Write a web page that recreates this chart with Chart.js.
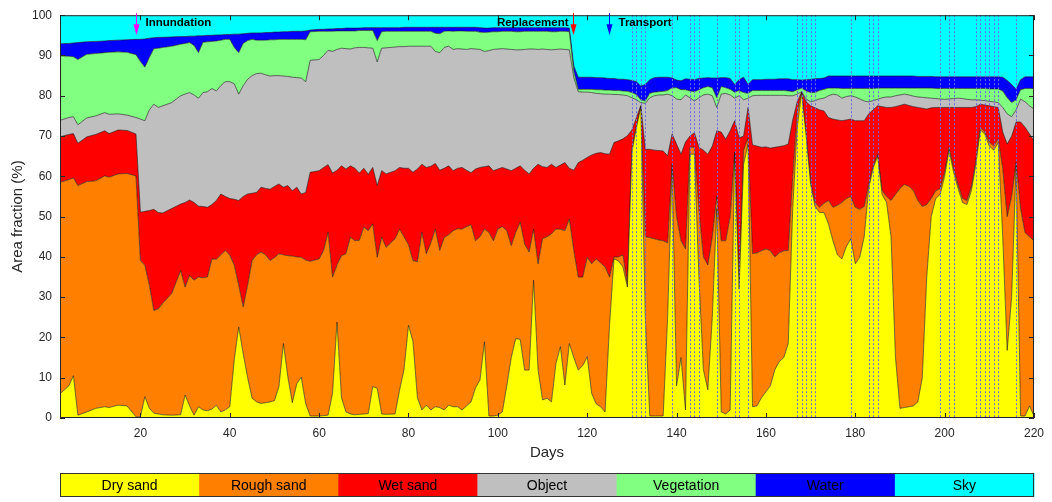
<!DOCTYPE html>
<html>
<head>
<meta charset="utf-8">
<script src="https://cdn.jsdelivr.net/npm/chart.js@4.4.1/dist/chart.umd.min.js"></script>
<style>
  html, body { margin: 0; padding: 0; background: #fff; }
  #wrap { width: 1052px; height: 502px; }
</style>
</head>
<body>
<div id="wrap"><canvas id="areaChart" width="1052" height="502"></canvas></div>
<script>
// sample days (x)
const days = [
  2, 4, 5, 6, 8, 10, 12, 13, 15, 17, 19,
  20, 21, 22, 23, 24, 25, 27, 29, 30, 31, 32, 33, 34, 35, 36, 37, 38, 39, 40,
  41, 42, 43, 44, 45, 46, 47, 48, 49, 50, 51, 52, 53, 54, 55, 56, 57, 58,
  60, 61, 62, 63, 64, 65, 66, 67, 68, 69, 70, 71, 72, 73, 74, 75,
  77, 78, 79, 80, 81, 82, 83, 84, 85, 86, 87, 88, 89,
  90, 91, 92, 93, 94, 95, 96, 97, 98, 99,
  100, 101, 102, 103, 104, 105, 106, 107, 108, 109,
  110, 111, 112, 113, 114, 115, 116, 117, 118, 119,
  120, 121, 122, 123, 124, 125, 126, 127, 128, 129,
  130, 131, 132, 133, 134, 135, 136, 137, 138, 139,
  140, 141, 142, 143, 144, 145, 146, 147, 148, 149,
  150, 151, 152, 153, 154, 155, 156, 157, 158, 159,
  160, 161, 162, 163, 164, 165, 166, 167, 168, 169,
  170, 171, 172, 173, 174, 175, 176, 177, 178, 179,
  180, 181, 182, 183, 184, 185, 186, 187, 188, 189,
  190, 191, 192, 193, 194, 195, 196, 197, 198, 199,
  200, 201, 202, 203, 204, 205, 206, 207, 208, 209,
  210, 211, 212, 213, 214, 215, 216, 217, 218, 219,
  220
];

// upper edge of each class, cumulative area fraction (%)
const dryTop = [
  6, 8, 10.5, 0.7, 1.5, 2.4, 2.8, 2.6, 3.2, 3.0, 0.3,
  0.3, 5.3, 2.4, 1.2, 1.0, 0.8, 0.7, 0.8, 5.7, 3.0, 0.7, 2.8, 2.0, 1.8, 2.2, 3.2, 1.5, 2.0, 2.8,
  14.4, 22.6, 16, 10, 4.9, 4.0, 3.6, 3.8, 4.0, 4.3, 7.8, 18.5, 10.2, 3.8, 8.5, 10.1, 3.5, 0.5,
  0.5, 0.6, 0.7, 6.1, 23.8, 5.0, 1.5, 1.0, 0.8, 0.9, 1.0, 1.1, 7.8, 7.4, 1.0, 0.9,
  1.0, 6.9, 12, 23, 19, 5, 2, 3.2, 2, 2.8, 2.6, 2.0, 3.2,
  2.8, 2.8, 2.0, 3.0, 4.0, 7.5, 9.4, 18.9, 0.5, 0.5,
  0.7, 1.5, 8, 15, 19.7, 19.5, 11.9, 11.9, 34.2, 12,
  4.5, 4.9, 4.0, 13.5, 17.7, 8.2, 18.5, 15, 11.9, 13,
  15.2, 6.1, 3.5, 2.8, 1.5, 23, 39.5, 39, 37.5, 32.5,
  66, 72, 77.1, 25, 0.5, 0.5, 0.5, 0.5, 25, 62,
  8, 15, 2, 65.5, 65.5, 35, 12, 7, 25, 52,
  1.5, 1.0, 2, 65.5, 32, 63, 68, 2.8, 3, 5,
  6.5, 8, 12, 14, 15, 18.5, 52, 72, 80.8, 70,
  58, 52.5, 51, 51, 48.2, 44, 40.5, 39.5, 42.5, 44.5,
  38.3, 39.9, 45, 57, 62, 65, 55.5, 53.5, 45, 15,
  2.4, 2.6, 2.8, 3.0, 4.0, 10, 35, 50, 54.5, 55.5,
  60, 66.5, 61, 57, 53.5, 53, 56.5, 63, 71.5, 70.5,
  67.5, 66.5, 68.4, 45, 16.8, 30, 62.6, 0.5, 0.5, 3,
  0.5
];
const roughTop = [
  58.5, 59.2, 59.6, 57.7, 58.7, 58.9, 60.1, 59.8, 60.6, 60.7, 60.1,
  39.1, 37.9, 33, 26.7, 27.1, 28.5, 30.9, 36.6, 32.5, 35.4, 34.2, 35, 34.8, 35, 39.5, 39.4, 40.5, 41.6, 40.4,
  38, 33, 27.6, 33, 39.1, 40.5, 41.2, 40.5, 39.1, 39.8, 40.8, 40.5, 40.3, 40.2, 40, 39.9, 39.2, 38.9,
  39.5, 41.6, 46.1, 35, 38, 40.3, 40.8, 44.9, 44, 44.1, 47.4, 46.5, 48.2, 39.9, 44.9, 42.4,
  44.5, 46.9, 45, 43, 39.1, 38.8, 46.1, 40.8, 43.5, 46.9, 41.6, 44.8, 45.5,
  46.5, 47, 46.9, 47.5, 48, 44, 45, 46.9, 46.1, 44,
  46.9, 47.5, 46.5, 42.8, 46.1, 48.6, 43.2, 41.2, 46.9, 38.3,
  44.5, 45, 45.7, 46.9, 46.9, 46.5, 49.4, 41.6, 35, 35,
  39.9, 38.3, 39.5, 38.5, 37.5, 35, 40, 40, 40.5, 33,
  67, 72.5, 77.3, 45, 44.8, 44.5, 44.2, 44, 43.5, 63,
  50, 44, 42, 67.2, 67.2, 52, 40, 38, 45, 55,
  44, 44, 50, 66, 33, 66.5, 69.5, 40.8, 41, 41.5,
  42, 41.5, 40, 41, 41.5, 41.6, 60, 76, 80.8, 70.5,
  58.5, 53.5, 52.3, 53.3, 54, 52.3, 52.8, 53.5, 54.5, 55,
  52.3, 51.8, 52.5, 58, 62.5, 65.5, 56.5, 55, 54, 55.5,
  57, 58, 57.5, 56.5, 54, 52.5, 53, 54.5, 56.4, 57,
  61, 67.2, 62, 58, 54.5, 54, 57.5, 64, 72.1, 71,
  68.5, 67.5, 69.3, 62, 50, 55, 63.5, 52, 46, 45,
  44
];
const wetTop = [
  69.8, 70.4, 70.6, 68.2, 69.8, 70.4, 71.3, 70.6, 71.5, 71.4, 70.5,
  51.1, 51.3, 51.5, 51.8, 51, 50.9, 52, 53.1, 53.5, 54.1, 53.5, 52.6, 52.5, 52.3, 53, 54, 55.6, 55, 54.5,
  54.3, 54, 55, 55.6, 55.8, 56, 57.3, 57, 56.8, 57.5, 58.1, 57.3, 57.7, 56.4, 57.3, 55.6, 56, 61,
  61.4, 62.2, 62.9, 60.8, 61.5, 62.6, 61.8, 62.6, 62, 60.8, 62, 60.5, 62.2, 57.7, 61.4, 60.6,
  61.4, 62.2, 62, 62, 61, 61.8, 63, 62.2, 62.5, 63.2, 61.5, 62, 62.6,
  61.4, 62, 62.2, 61.5, 60.9, 61.8, 62.2, 62.4, 62.6, 61.4,
  61.8, 62.2, 61.8, 61.4, 62, 62.6, 61.5, 60.6, 62, 63,
  62.4, 62.2, 63, 62.2, 62.8, 63.4, 62, 61.5, 63.4, 64,
  64.7, 65.3, 65.7, 65.9, 65.6, 65.5, 68.4, 68.8, 69.3, 70.1,
  71.5, 74.5, 77.6, 66.7, 66.7, 66.5, 66.4, 66.3, 65.1, 70.5,
  68, 65.5, 68.5, 70, 70.8, 67.2, 66.5, 65.5, 67.5, 71.3,
  71, 69.2, 71.3, 73.8, 69.5, 70, 77.1, 67.8, 67.5, 67.2,
  67.3, 67, 67.2, 67.4, 67.6, 68, 74, 78.5, 80.9, 78.5,
  77.5, 77, 76.5, 76.2, 74.6, 74.2, 74, 73.8, 74, 74.2,
  73.8, 73.8, 73.8, 75.5, 76.5, 77.5, 77.3, 77.1, 77.1, 77.3,
  77.6, 77.9, 77.6, 77.3, 77.1, 76.9, 76.7, 77, 77.1, 77.1,
  77.1, 77.1, 77.1, 77.1, 77.1, 77.1, 77.1, 77.3, 77.9, 77.7,
  77.5, 77.3, 77.1, 71, 68, 70, 73.5, 73.5, 72.2, 70.5,
  68.8
];
const objectTop = [
  73.9, 74.6, 74.8, 72.8, 74.5, 75, 75.8, 75.4, 75.5, 75.2, 74.6,
  74.2, 73.8, 76.5, 77.9, 77.1, 77.5, 78.3, 80, 80.4, 80.8, 80.2, 79.4, 80.8, 81, 81.8, 81.2, 82.5, 83.5, 83.5,
  83, 80.4, 82.5, 84.1, 85, 85.5, 85.6, 85.2, 84.9, 85, 85, 84.9, 84.8, 84.6, 84.5, 84.4, 83.5, 88.8,
  89, 90, 91.3, 91, 91.5, 91.8, 91.7, 91.6, 91.9, 92, 92, 91.9, 91.8, 88.4, 91.8, 91.9,
  92.1, 92.2, 92.2, 92.3, 92.3, 92.3, 92.3, 92.3, 92.3, 91, 90.7, 92, 92.3,
  91.5, 91.7, 91.6, 91.5, 91.7, 91.6, 91.5, 91, 91.2, 91.5,
  91.6, 91.7, 91.6, 91.5, 91.4, 91.4, 91.5, 91.6, 91.6, 91.5,
  91.6, 91.5, 91.4, 91.5, 91.6, 91.5, 91.4, 84.5, 81, 80.9,
  80.9, 80.8, 80.6, 80.5, 80.4, 80.4, 80.3, 80.3, 80.2, 80,
  79.5, 79, 78.3, 78.1, 79.5, 80, 80.2, 80.2, 80.4, 80,
  79.2, 79, 80.2, 79.5, 78.7, 79.5, 80.2, 80.4, 80, 77.1,
  80.4, 80.6, 80.2, 79.4, 80, 79, 79.4, 80, 80.1, 80.1,
  80.1, 80.1, 80.1, 80.1, 80.1, 80, 80, 80.4, 81, 79.2,
  78.5, 78.8, 79.2, 79.4, 80, 80.4, 80.2, 79.4, 79.8, 80,
  79.7, 79.2, 78.7, 78.5, 78.8, 79.1, 79.5, 79.7, 79.7, 80,
  80.2, 80.4, 80.2, 79.9, 79.7, 79.6, 79.5, 79.4, 79.3, 79.2,
  79.1, 79.2, 79.3, 79.4, 79.3, 79.1, 79, 79, 78.9, 78.8,
  78.6, 78.5, 78.3, 77.1, 75.5, 74.8, 76.5, 79.2, 78.5, 77.5,
  76.7
];
const vegTop = [
  89.9, 89.8, 89.7, 89, 90.3, 90.5, 90.7, 90.8, 90.9, 90.8, 90.2,
  88.5, 87.1, 89.5, 91.7, 91.8, 92, 92.3, 92.8, 93, 93.2, 92.5, 90.7, 93.3, 93.4, 93.5, 93.6, 93.8, 94, 94,
  92, 90.7, 93, 93.7, 94, 93.8, 93.8, 93.8, 93.9, 93.9, 94, 94, 94, 94, 94, 94, 93.9, 95.9,
  96, 96, 96, 96, 96.1, 96.1, 96.1, 96.1, 96.1, 96.2, 96.2, 96.2, 96.2, 93.7, 95.9, 96,
  96, 96, 96, 96, 96, 96, 96, 96, 96, 95.5, 95.4, 96, 96.1,
  96, 96.1, 96.1, 96, 96, 96, 95.8, 95.7, 95.8, 95.9,
  95.9, 96, 96, 96, 95.9, 95.9, 96, 96, 96, 96,
  96, 96, 95.9, 95.9, 96, 96, 95.9, 86.1, 81.6, 81.6,
  81.6, 81.6, 81.5, 81.5, 81.4, 81.4, 81.3, 81.3, 81.2, 81.1,
  80.8, 80.3, 79, 78.7, 80.6, 80.9, 81, 81.1, 81.3, 82,
  82, 81.5, 81.5, 81.2, 81, 81.5, 82, 82.3, 82, 79.5,
  82.3, 82, 81.6, 80.9, 81.3, 80.8, 80.6, 81.3, 81.3, 81.3,
  81.3, 81.3, 81.3, 81.3, 81.3, 81.2, 81, 81.5, 81.9, 81.2,
  80.8, 80.8, 81.3, 81.6, 81.9, 81.9, 81.9, 81.8, 81.8, 81.8,
  81.8, 81.8, 81.8, 81.8, 81.8, 81.9, 81.9, 81.9, 81.9, 81.9,
  81.9, 81.9, 81.9, 81.9, 81.9, 81.9, 81.9, 81.9, 81.8, 81.8,
  81.8, 81.8, 81.8, 81.8, 81.8, 81.8, 81.8, 81.8, 81.8, 81.8,
  81.7, 81.7, 81.7, 81.2, 79.5, 78.3, 79, 81.5, 81.8, 81.8,
  81.8
];
const waterTop = [
  92.9, 93, 93.1, 93.2, 93.4, 93.5, 93.6, 93.7, 93.8, 93.9, 94,
  94, 94.1, 94.3, 94.4, 94.5, 94.5, 94.6, 94.7, 94.7, 94.8, 94.8, 94.9, 94.9, 95, 95, 95.1, 95.1, 95.2, 95.2,
  95.3, 95.3, 95.4, 95.5, 95.6, 95.6, 95.6, 95.7, 95.7, 95.8, 95.8, 95.9, 95.9, 96, 96, 96, 96.1, 96.3,
  96.5, 96.5, 96.6, 96.6, 96.7, 96.7, 96.8, 96.8, 96.8, 96.8, 96.9, 96.9, 96.9, 96.9, 96.9, 96.9,
  96.9, 96.9, 97, 97, 97, 97, 97, 97, 97, 97, 97, 97, 97,
  97, 97, 97, 97, 97, 97, 96.9, 96.8, 96.8, 96.9,
  96.9, 96.9, 96.9, 96.9, 96.9, 96.9, 96.9, 96.9, 96.9, 96.9,
  96.9, 96.9, 96.9, 96.9, 96.9, 96.9, 96.8, 87.4, 84.6, 84.6,
  84.6, 84.6, 84.5, 84.5, 84.4, 84.3, 84.3, 84.1, 84.1, 84,
  83.8, 83.5, 82.4, 82.8, 84, 84.5, 84.6, 84.6, 84.6, 84.4,
  83.9, 83.7, 84.2, 84.1, 84, 84.3, 84.4, 84.5, 84.4, 84.4,
  84.5, 84.5, 84.3, 82.8, 84, 84.6, 82.8, 84, 84, 84,
  84.1, 84.1, 84.1, 84.2, 84.2, 84.2, 84, 84, 83.9, 84,
  84.1, 84.2, 84.3, 84.4, 84.9, 84.9, 84.9, 84.9, 84.9, 84.9,
  84.9, 84.9, 84.9, 84.9, 84.9, 84.9, 84.9, 84.9, 84.9, 84.9,
  84.9, 84.9, 84.9, 84.9, 84.8, 84.8, 84.8, 84.8, 84.7, 84.7,
  84.7, 84.7, 84.7, 84.7, 84.7, 84.7, 84.7, 84.7, 84.7, 84.7,
  84.7, 84.7, 84.7, 84.6, 83.8, 82.8, 81.6, 84, 84.7, 84.7,
  84.7
];

const classNames = ['Dry sand', 'Rough sand', 'Wet sand', 'Object', 'Vegetation', 'Water', 'Sky'];
const classColors = ['#ffff00', '#ff8000', '#ff0000', '#bfbfbf', '#80ff80', '#0000ff', '#00ffff'];
const xTickValues = [20, 40, 60, 80, 100, 120, 140, 160, 180, 200, 220];

// days marked with dotted lines (transport events)
const transportDays = [130, 131, 132, 133, 139, 143, 144, 145, 149, 153, 154, 156,
  167, 168, 169, 170, 171, 179, 183, 184, 185, 199, 201, 202,
  207, 208, 209, 210, 211, 212, 216];

const eventDays = [19, 116.9, 124.8];
const eventNames = ['Innundation', 'Replacement', 'Transport'];
const eventColors = ['#ff00ff', '#ff0000', '#0000ff'];

const FONT = '"Liberation Sans", Arial, Helvetica, sans-serif';
const INK = '#262626';

// sky fills from the water edge up to the top
const edges = [dryTop, roughTop, wetTop, objectTop, vegTop, waterTop, waterTop];

const datasets = classNames.map((name, i) => ({
    label: name,
    data: days.map((d, k) => ({ x: d, y: edges[i][k] })),
    backgroundColor: classColors[i],
    borderColor: i === 6 ? 'rgba(0,0,0,0)' : 'rgba(20,20,20,0.85)',
    borderWidth: i === 6 ? 0 : 0.7,
    fill: i === 0 ? 'origin' : (i === 6 ? 'end' : '-1'),
    pointRadius: 0,
    tension: 0
}));

const decorations = {
    id: 'decorations',
    afterDatasetsDraw(chart) {
        const { ctx, chartArea: a, scales: { x, y } } = chart;
        ctx.save();

        // dotted transport markers
        ctx.strokeStyle = '#6a6ae6';
        ctx.lineWidth = 1;
        ctx.setLineDash([2, 2]);
        transportDays.forEach(d => {
            const px = Math.round(x.getPixelForValue(d)) + 0.5;
            ctx.beginPath();
            ctx.moveTo(px, a.top);
            ctx.lineTo(px, a.bottom);
            ctx.stroke();
        });
        ctx.setLineDash([]);

        // box + inward ticks on all sides
        ctx.strokeStyle = INK;
        ctx.lineWidth = 1;
        ctx.strokeRect(a.left + 0.5, a.top + 0.5, a.width - 1, a.height - 1);
        const tl = 5;
        ctx.beginPath();
        x.ticks.forEach(t => {
            const px = Math.round(x.getPixelForValue(t.value)) + 0.5;
            ctx.moveTo(px, a.bottom); ctx.lineTo(px, a.bottom - tl);
            ctx.moveTo(px, a.top); ctx.lineTo(px, a.top + tl);
        });
        y.ticks.forEach(t => {
            const py = Math.round(y.getPixelForValue(t.value)) + 0.5;
            ctx.moveTo(a.left, py); ctx.lineTo(a.left + tl, py);
            ctx.moveTo(a.right, py); ctx.lineTo(a.right - tl, py);
        });
        ctx.stroke();

        // event arrows and labels
        const yTip = y.getPixelForValue(95);
        eventDays.forEach((d, i) => {
            const px = Math.round(x.getPixelForValue(d)) + 0.5;
            ctx.strokeStyle = eventColors[i];
            ctx.fillStyle = eventColors[i];
            ctx.lineWidth = 1;
            ctx.beginPath();
            ctx.moveTo(px, a.top - 2);
            ctx.lineTo(px, yTip - 10);
            ctx.stroke();
            ctx.beginPath();
            ctx.moveTo(px - 3, yTip - 11);
            ctx.lineTo(px + 3, yTip - 11);
            ctx.lineTo(px, yTip);
            ctx.closePath();
            ctx.fill();

            ctx.fillStyle = '#000';
            ctx.font = `bold 11.5px ${FONT}`;
            ctx.textBaseline = 'alphabetic';
            const leftSide = eventNames[i] === 'Replacement';
            ctx.textAlign = leftSide ? 'right' : 'left';
            ctx.fillText(eventNames[i], leftSide ? px - 5 : px + 9, 26);
        });
        ctx.restore();
    },
    afterDraw(chart) {
        // colour-bar legend under the axis
        const { ctx, chartArea: a } = chart;
        const ds = chart.data.datasets;
        const top = 473, h = 24;
        const w = a.width / ds.length;
        ctx.save();
        ds.forEach((d, i) => {
            const x0 = a.left + i * w;
            ctx.fillStyle = d.backgroundColor;
            ctx.fillRect(x0, top, w + 0.5, h);
            ctx.fillStyle = '#000';
            ctx.font = `14px ${FONT}`;
            ctx.textAlign = 'center';
            ctx.textBaseline = 'middle';
            ctx.fillText(d.label, x0 + w / 2, top + h / 2 + 1);
        });
        ctx.strokeStyle = '#333';
        ctx.lineWidth = 1;
        ctx.strokeRect(a.left + 0.5, top + 0.5, a.width - 1, h - 1);
        ctx.restore();
    }
};

new Chart(document.getElementById('areaChart'), {
    type: 'line',
    data: { datasets },
    options: {
        responsive: false,
        animation: false,
        events: [],
        layout: { padding: { left: 0, right: 16, top: 14, bottom: 0 } },
        plugins: {
            legend: { display: false },
            tooltip: { enabled: false }
        },
        scales: {
            x: {
                type: 'linear',
                min: 2, max: 220,
                afterFit: s => { s.height = 84; },
                afterBuildTicks: s => { s.ticks = xTickValues.map(v => ({ value: v })); },
                grid: { display: false, drawTicks: false },
                border: { display: false },
                ticks: { padding: 8, color: INK, font: { family: FONT, size: 12 }, maxRotation: 0, autoSkip: false },
                title: { display: true, text: 'Days', color: INK, font: { family: FONT, size: 15 }, padding: { top: 0, bottom: 40 } }
            },
            y: {
                min: 0, max: 100,
                afterFit: s => { s.width = 60; },
                grid: { display: false, drawTicks: false },
                border: { display: false },
                ticks: { stepSize: 10, padding: 8, color: INK, font: { family: FONT, size: 12 } },
                title: { display: true, text: 'Area fraction (%)', color: INK, font: { family: FONT, size: 15 }, padding: { top: 9, bottom: 0 } }
            }
        }
    },
    plugins: [decorations]
});
</script>
</body>
</html>
